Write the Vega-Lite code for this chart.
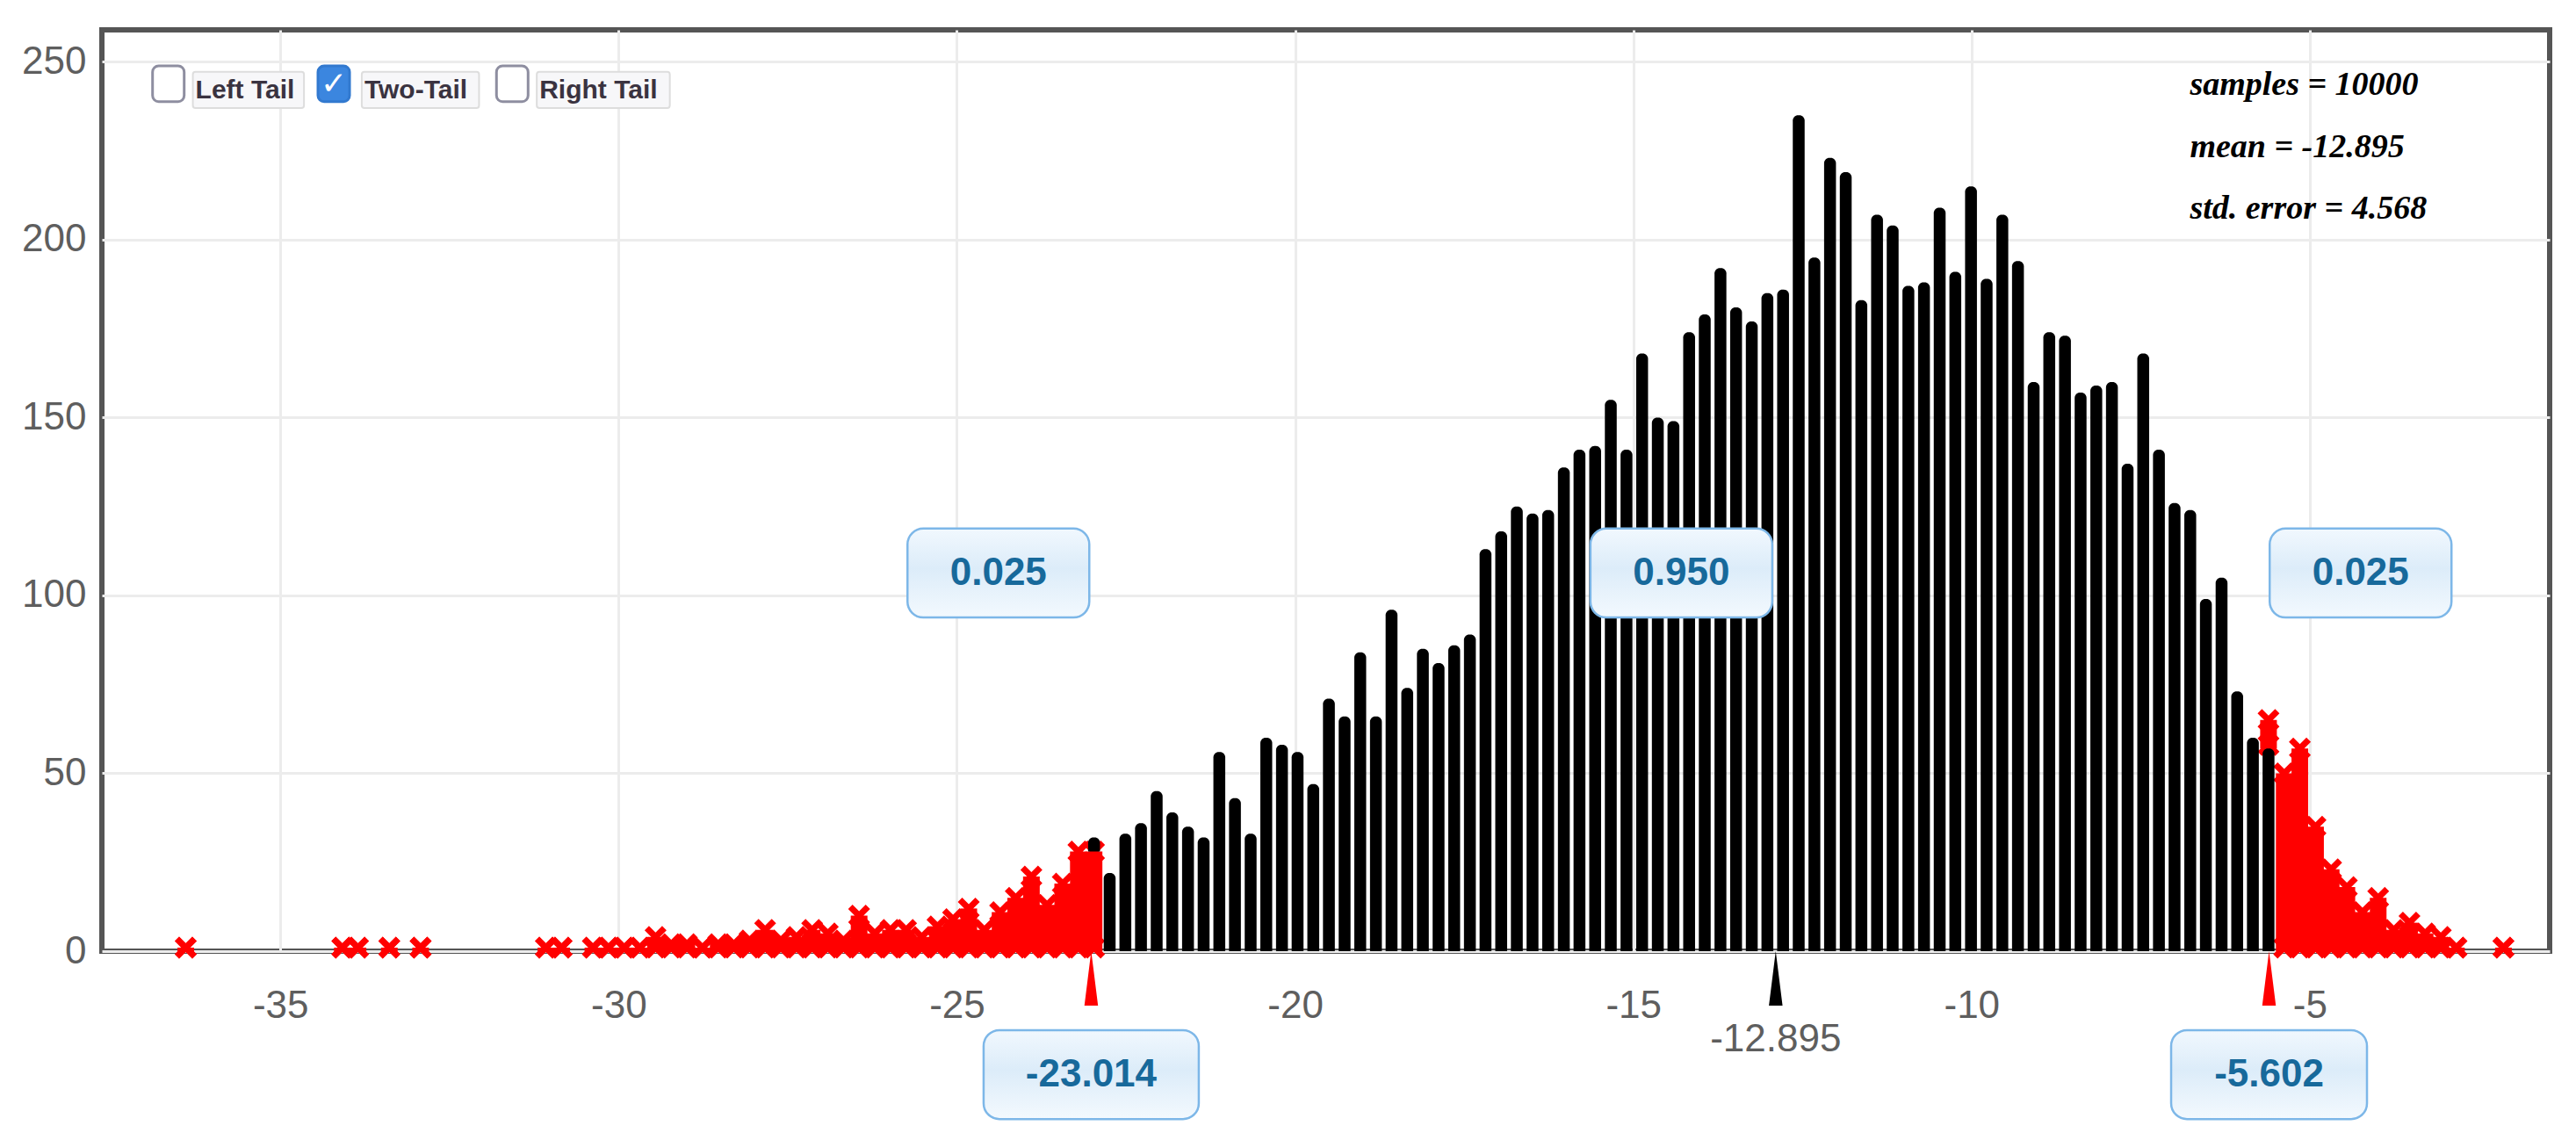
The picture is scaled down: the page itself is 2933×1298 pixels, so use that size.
{
  "$schema": "https://vega.github.io/schema/vega-lite/v6.json",
  "width": 2787,
  "height": 1049,
  "autosize": "none",
  "padding": {"left": 116, "top": 34, "right": 30, "bottom": 215},
  "background": "#ffffff",
  "config": {
    "view": {"stroke": "#555555", "strokeWidth": 6},
    "axis": {"domain": false, "ticks": false, "grid": true, "gridColor": "#ececec", "gridWidth": 3, "labelFont": "Liberation Sans", "labelFontSize": 44, "labelColor": "#5e5e5e", "labelFlush": false, "labelOverlap": false}
  },
  "datasets": {
    "bins": [
      {"x": -36.399, "lo": 0, "hi": 1, "part": "red"},
      {"x": -34.084, "lo": 0, "hi": 1, "part": "red"},
      {"x": -33.853, "lo": 0, "hi": 1, "part": "red"},
      {"x": -33.390, "lo": 0, "hi": 1, "part": "red"},
      {"x": -32.927, "lo": 0, "hi": 1, "part": "red"},
      {"x": -31.075, "lo": 0, "hi": 1, "part": "red"},
      {"x": -30.843, "lo": 0, "hi": 1, "part": "red"},
      {"x": -30.380, "lo": 0, "hi": 1, "part": "red"},
      {"x": -30.149, "lo": 0, "hi": 1, "part": "red"},
      {"x": -29.917, "lo": 0, "hi": 1, "part": "red"},
      {"x": -29.686, "lo": 0, "hi": 1, "part": "red"},
      {"x": -29.454, "lo": 0, "hi": 4, "part": "red"},
      {"x": -29.223, "lo": 0, "hi": 2, "part": "red"},
      {"x": -28.991, "lo": 0, "hi": 2, "part": "red"},
      {"x": -28.760, "lo": 0, "hi": 1, "part": "red"},
      {"x": -28.528, "lo": 0, "hi": 2, "part": "red"},
      {"x": -28.297, "lo": 0, "hi": 2, "part": "red"},
      {"x": -28.065, "lo": 0, "hi": 3, "part": "red"},
      {"x": -27.834, "lo": 0, "hi": 6, "part": "red"},
      {"x": -27.602, "lo": 0, "hi": 3, "part": "red"},
      {"x": -27.371, "lo": 0, "hi": 4, "part": "red"},
      {"x": -27.139, "lo": 0, "hi": 6, "part": "red"},
      {"x": -26.908, "lo": 0, "hi": 5, "part": "red"},
      {"x": -26.676, "lo": 0, "hi": 3, "part": "red"},
      {"x": -26.445, "lo": 0, "hi": 10, "part": "red"},
      {"x": -26.213, "lo": 0, "hi": 5, "part": "red"},
      {"x": -25.982, "lo": 0, "hi": 6, "part": "red"},
      {"x": -25.750, "lo": 0, "hi": 6, "part": "red"},
      {"x": -25.519, "lo": 0, "hi": 4, "part": "red"},
      {"x": -25.287, "lo": 0, "hi": 7, "part": "red"},
      {"x": -25.056, "lo": 0, "hi": 9, "part": "red"},
      {"x": -24.824, "lo": 0, "hi": 12, "part": "red"},
      {"x": -24.593, "lo": 0, "hi": 6, "part": "red"},
      {"x": -24.361, "lo": 0, "hi": 11, "part": "red"},
      {"x": -24.130, "lo": 0, "hi": 15, "part": "red"},
      {"x": -23.898, "lo": 0, "hi": 21, "part": "red"},
      {"x": -23.667, "lo": 0, "hi": 13, "part": "red"},
      {"x": -23.435, "lo": 0, "hi": 19, "part": "red"},
      {"x": -23.204, "lo": 0, "hi": 28, "part": "red"},
      {"x": -22.972, "lo": 0, "hi": 28, "part": "red"},
      {"x": -22.972, "lo": 28, "hi": 32, "part": "black"},
      {"x": -22.741, "lo": 0, "hi": 22, "part": "black"},
      {"x": -22.509, "lo": 0, "hi": 33, "part": "black"},
      {"x": -22.278, "lo": 0, "hi": 36, "part": "black"},
      {"x": -22.046, "lo": 0, "hi": 45, "part": "black"},
      {"x": -21.815, "lo": 0, "hi": 39, "part": "black"},
      {"x": -21.583, "lo": 0, "hi": 35, "part": "black"},
      {"x": -21.352, "lo": 0, "hi": 32, "part": "black"},
      {"x": -21.120, "lo": 0, "hi": 56, "part": "black"},
      {"x": -20.889, "lo": 0, "hi": 43, "part": "black"},
      {"x": -20.657, "lo": 0, "hi": 33, "part": "black"},
      {"x": -20.426, "lo": 0, "hi": 60, "part": "black"},
      {"x": -20.194, "lo": 0, "hi": 58, "part": "black"},
      {"x": -19.963, "lo": 0, "hi": 56, "part": "black"},
      {"x": -19.731, "lo": 0, "hi": 47, "part": "black"},
      {"x": -19.500, "lo": 0, "hi": 71, "part": "black"},
      {"x": -19.268, "lo": 0, "hi": 66, "part": "black"},
      {"x": -19.037, "lo": 0, "hi": 84, "part": "black"},
      {"x": -18.805, "lo": 0, "hi": 66, "part": "black"},
      {"x": -18.574, "lo": 0, "hi": 96, "part": "black"},
      {"x": -18.342, "lo": 0, "hi": 74, "part": "black"},
      {"x": -18.111, "lo": 0, "hi": 85, "part": "black"},
      {"x": -17.879, "lo": 0, "hi": 81, "part": "black"},
      {"x": -17.648, "lo": 0, "hi": 86, "part": "black"},
      {"x": -17.416, "lo": 0, "hi": 89, "part": "black"},
      {"x": -17.185, "lo": 0, "hi": 113, "part": "black"},
      {"x": -16.953, "lo": 0, "hi": 118, "part": "black"},
      {"x": -16.722, "lo": 0, "hi": 125, "part": "black"},
      {"x": -16.490, "lo": 0, "hi": 123, "part": "black"},
      {"x": -16.259, "lo": 0, "hi": 124, "part": "black"},
      {"x": -16.027, "lo": 0, "hi": 136, "part": "black"},
      {"x": -15.796, "lo": 0, "hi": 141, "part": "black"},
      {"x": -15.564, "lo": 0, "hi": 142, "part": "black"},
      {"x": -15.333, "lo": 0, "hi": 155, "part": "black"},
      {"x": -15.101, "lo": 0, "hi": 141, "part": "black"},
      {"x": -14.870, "lo": 0, "hi": 168, "part": "black"},
      {"x": -14.638, "lo": 0, "hi": 150, "part": "black"},
      {"x": -14.407, "lo": 0, "hi": 149, "part": "black"},
      {"x": -14.175, "lo": 0, "hi": 174, "part": "black"},
      {"x": -13.944, "lo": 0, "hi": 179, "part": "black"},
      {"x": -13.712, "lo": 0, "hi": 192, "part": "black"},
      {"x": -13.481, "lo": 0, "hi": 181, "part": "black"},
      {"x": -13.249, "lo": 0, "hi": 177, "part": "black"},
      {"x": -13.018, "lo": 0, "hi": 185, "part": "black"},
      {"x": -12.786, "lo": 0, "hi": 186, "part": "black"},
      {"x": -12.555, "lo": 0, "hi": 235, "part": "black"},
      {"x": -12.323, "lo": 0, "hi": 195, "part": "black"},
      {"x": -12.092, "lo": 0, "hi": 223, "part": "black"},
      {"x": -11.860, "lo": 0, "hi": 219, "part": "black"},
      {"x": -11.629, "lo": 0, "hi": 183, "part": "black"},
      {"x": -11.397, "lo": 0, "hi": 207, "part": "black"},
      {"x": -11.166, "lo": 0, "hi": 204, "part": "black"},
      {"x": -10.934, "lo": 0, "hi": 187, "part": "black"},
      {"x": -10.703, "lo": 0, "hi": 188, "part": "black"},
      {"x": -10.471, "lo": 0, "hi": 209, "part": "black"},
      {"x": -10.240, "lo": 0, "hi": 191, "part": "black"},
      {"x": -10.008, "lo": 0, "hi": 215, "part": "black"},
      {"x": -9.777, "lo": 0, "hi": 189, "part": "black"},
      {"x": -9.545, "lo": 0, "hi": 207, "part": "black"},
      {"x": -9.314, "lo": 0, "hi": 194, "part": "black"},
      {"x": -9.082, "lo": 0, "hi": 160, "part": "black"},
      {"x": -8.851, "lo": 0, "hi": 174, "part": "black"},
      {"x": -8.619, "lo": 0, "hi": 173, "part": "black"},
      {"x": -8.388, "lo": 0, "hi": 157, "part": "black"},
      {"x": -8.156, "lo": 0, "hi": 159, "part": "black"},
      {"x": -7.925, "lo": 0, "hi": 160, "part": "black"},
      {"x": -7.693, "lo": 0, "hi": 137, "part": "black"},
      {"x": -7.462, "lo": 0, "hi": 168, "part": "black"},
      {"x": -7.230, "lo": 0, "hi": 141, "part": "black"},
      {"x": -6.999, "lo": 0, "hi": 126, "part": "black"},
      {"x": -6.767, "lo": 0, "hi": 124, "part": "black"},
      {"x": -6.536, "lo": 0, "hi": 99, "part": "black"},
      {"x": -6.304, "lo": 0, "hi": 105, "part": "black"},
      {"x": -6.073, "lo": 0, "hi": 73, "part": "black"},
      {"x": -5.841, "lo": 0, "hi": 60, "part": "black"},
      {"x": -5.610, "lo": 0, "hi": 57, "part": "black"},
      {"x": -5.610, "lo": 57, "hi": 65, "part": "red"},
      {"x": -5.378, "lo": 0, "hi": 50, "part": "red"},
      {"x": -5.147, "lo": 0, "hi": 57, "part": "red"},
      {"x": -4.915, "lo": 0, "hi": 35, "part": "red"},
      {"x": -4.684, "lo": 0, "hi": 23, "part": "red"},
      {"x": -4.452, "lo": 0, "hi": 18, "part": "red"},
      {"x": -4.221, "lo": 0, "hi": 11, "part": "red"},
      {"x": -3.989, "lo": 0, "hi": 15, "part": "red"},
      {"x": -3.758, "lo": 0, "hi": 6, "part": "red"},
      {"x": -3.526, "lo": 0, "hi": 8, "part": "red"},
      {"x": -3.295, "lo": 0, "hi": 5, "part": "red"},
      {"x": -3.063, "lo": 0, "hi": 4, "part": "red"},
      {"x": -2.832, "lo": 0, "hi": 1, "part": "red"},
      {"x": -2.137, "lo": 0, "hi": 1, "part": "red"}
    ],
    "markers": [
      {"x": -23.014, "kind": "tail"},
      {"x": -12.895, "kind": "mean"},
      {"x": -5.602, "kind": "tail"}
    ],
    "props": [
      {"x": -24.386, "label": "0.025"},
      {"x": -14.29, "label": "0.950"},
      {"x": -4.249, "label": "0.025"}
    ],
    "cuts": [
      {"x": -23.014, "label": "-23.014"},
      {"x": -5.602, "label": "-5.602"}
    ]
  },
  "layer": [
    {
      "data": {"name": "bins"},
      "transform": [{"filter": "datum.part == 'red'"}],
      "mark": {"type": "bar", "width": 19, "color": "#ff0000"},
      "encoding": {
        "x": {"field": "x", "type": "quantitative", "title": null, "scale": {"domain": [-37.574, -1.519], "nice": false, "zero": false}, "axis": {"values": [-35, -30, -25, -20, -15, -10, -5], "labelExpr": "'' + datum.value", "labelPadding": 40, "title": null}},
        "y": {"field": "lo", "type": "quantitative", "title": null, "scale": {"domain": [0, 259], "nice": false, "zero": false}, "axis": {"values": [0, 50, 100, 150, 200, 250], "labelExpr": "'' + datum.value", "labelPadding": 18, "title": null}},
        "y2": {"field": "hi"}
      }
    },
    {
      "data": {"name": "bins"},
      "transform": [{"filter": "datum.part == 'red'"}],
      "mark": {"type": "point", "shape": "M-1,-0.6L-0.6,-1L0,-0.4L0.6,-1L1,-0.6L0.4,0L1,0.6L0.6,1L0,0.4L-0.6,1L-1,0.6L-0.4,0Z", "filled": true, "size": 625, "color": "#ff0000", "opacity": 1, "strokeWidth": 0},
      "encoding": {
        "x": {"field": "x", "type": "quantitative", "title": null},
        "y": {"field": "hi", "type": "quantitative", "title": null}
      }
    },
    {
      "data": {"name": "bins"},
      "transform": [{"filter": "datum.part == 'red'"}],
      "mark": {"type": "point", "shape": "M-1,-0.6L-0.6,-1L0,-0.4L0.6,-1L1,-0.6L0.4,0L1,0.6L0.6,1L0,0.4L-0.6,1L-1,0.6L-0.4,0Z", "filled": true, "size": 625, "color": "#ff0000", "opacity": 1, "strokeWidth": 0, "yOffset": -4},
      "encoding": {
        "x": {"field": "x", "type": "quantitative", "title": null},
        "y": {"field": "lo", "type": "quantitative", "title": null}
      }
    },
    {
      "data": {"name": "bins"},
      "transform": [{"filter": "datum.part == 'black'"}],
      "mark": {"type": "bar", "width": 13.5, "color": "#000000", "cornerRadiusTopLeft": 6, "cornerRadiusTopRight": 6},
      "encoding": {
        "x": {"field": "x", "type": "quantitative", "title": null},
        "y": {"field": "lo", "type": "quantitative", "title": null},
        "y2": {"field": "hi"}
      }
    },
    {
      "data": {"name": "markers"},
      "mark": {"type": "point", "shape": "M0,0L0.25,2L-0.25,2Z", "filled": true, "size": 3844, "opacity": 1, "strokeWidth": 0},
      "encoding": {
        "x": {"field": "x", "type": "quantitative", "title": null},
        "y": {"datum": 0, "type": "quantitative"},
        "color": {"field": "kind", "type": "nominal", "scale": {"domain": ["tail", "mean"], "range": ["#ff0000", "#000000"]}, "legend": null}
      }
    },
    {
      "data": {"name": "markers"},
      "transform": [{"filter": "datum.kind == 'mean'"}],
      "mark": {"type": "text", "text": "-12.895", "font": "Liberation Sans", "fontSize": 44, "color": "#5e5e5e", "baseline": "middle", "align": "center"},
      "encoding": {
        "x": {"field": "x", "type": "quantitative", "title": null},
        "y": {"datum": -24.9, "type": "quantitative"}
      }
    },
    {
      "data": {"name": "props"},
      "mark": {"type": "bar", "width": 207, "cornerRadius": 18, "stroke": "#7db7e8", "strokeWidth": 2.5, "fill": {"gradient": "linear", "x1": 0, "y1": 0, "x2": 0, "y2": 1, "stops": [{"offset": 0, "color": "#f1f8fe"}, {"offset": 0.45, "color": "#dcecf9"}, {"offset": 1, "color": "#f3f9fe"}]}},
      "encoding": {
        "x": {"field": "x", "type": "quantitative", "title": null},
        "y": {"datum": 93.8, "type": "quantitative"},
        "y2": {"datum": 118.8}
      }
    },
    {
      "data": {"name": "props"},
      "mark": {"type": "text", "font": "Liberation Sans", "fontSize": 44, "fontWeight": "bold", "color": "#17699b", "baseline": "middle", "align": "center"},
      "encoding": {
        "x": {"field": "x", "type": "quantitative", "title": null},
        "y": {"datum": 106.2, "type": "quantitative"},
        "text": {"field": "label"}
      }
    },
    {
      "data": {"name": "cuts"},
      "transform": [{"filter": "datum.label == '-23.014'"}],
      "mark": {"type": "bar", "width": 245, "cornerRadius": 18, "stroke": "#7db7e8", "strokeWidth": 2.5, "fill": {"gradient": "linear", "x1": 0, "y1": 0, "x2": 0, "y2": 1, "stops": [{"offset": 0, "color": "#f1f8fe"}, {"offset": 0.45, "color": "#dcecf9"}, {"offset": 1, "color": "#f3f9fe"}]}},
      "encoding": {
        "x": {"field": "x", "type": "quantitative", "title": null},
        "y": {"datum": -22.2, "type": "quantitative"},
        "y2": {"datum": -47.2}
      }
    },
    {
      "data": {"name": "cuts"},
      "transform": [{"filter": "datum.label == '-5.602'"}],
      "mark": {"type": "bar", "width": 223, "cornerRadius": 18, "stroke": "#7db7e8", "strokeWidth": 2.5, "fill": {"gradient": "linear", "x1": 0, "y1": 0, "x2": 0, "y2": 1, "stops": [{"offset": 0, "color": "#f1f8fe"}, {"offset": 0.45, "color": "#dcecf9"}, {"offset": 1, "color": "#f3f9fe"}]}},
      "encoding": {
        "x": {"field": "x", "type": "quantitative", "title": null},
        "y": {"datum": -22.2, "type": "quantitative"},
        "y2": {"datum": -47.2}
      }
    },
    {
      "data": {"name": "cuts"},
      "mark": {"type": "text", "font": "Liberation Sans", "fontSize": 44, "fontWeight": "bold", "color": "#17699b", "baseline": "middle", "align": "center"},
      "encoding": {
        "x": {"field": "x", "type": "quantitative", "title": null},
        "y": {"datum": -34.8, "type": "quantitative"},
        "text": {"field": "label"}
      }
    },
    {
      "data": {"values": [{}]},
      "mark": {"type": "text", "text": ["samples = 10000", "mean = -12.895", "std. error = 4.568"], "lineHeight": 70.5, "font": "Liberation Serif", "fontSize": 38, "fontStyle": "italic", "fontWeight": "bold", "color": "#000000", "align": "left", "baseline": "alphabetic"},
      "encoding": {
        "x": {"datum": -6.772, "type": "quantitative"},
        "y": {"datum": 240.7, "type": "quantitative"}
      }
    },
    {
      "data": {"values": [{}]},
      "mark": {"type": "bar", "cornerRadius": 3, "fill": "#f7f7f9", "stroke": "#dddddd", "strokeWidth": 2},
      "encoding": {
        "x": {"datum": -36.294, "type": "quantitative"},
        "x2": {"datum": -34.651},
        "y": {"datum": 237.0, "type": "quantitative"},
        "y2": {"datum": 247.2}
      }
    },
    {
      "data": {"values": [{}]},
      "mark": {"type": "bar", "cornerRadius": 3, "fill": "#f7f7f9", "stroke": "#dddddd", "strokeWidth": 2},
      "encoding": {
        "x": {"datum": -33.797, "type": "quantitative"},
        "x2": {"datum": -32.063},
        "y": {"datum": 237.0, "type": "quantitative"},
        "y2": {"datum": 247.2}
      }
    },
    {
      "data": {"values": [{}]},
      "mark": {"type": "bar", "cornerRadius": 3, "fill": "#f7f7f9", "stroke": "#dddddd", "strokeWidth": 2},
      "encoding": {
        "x": {"datum": -31.210, "type": "quantitative"},
        "x2": {"datum": -29.243},
        "y": {"datum": 237.0, "type": "quantitative"},
        "y2": {"datum": 247.2}
      }
    },
    {
      "data": {"values": [{}]},
      "mark": {"type": "bar", "width": 36, "cornerRadius": 7, "fill": "#ffffff", "stroke": "#8e8ea0", "strokeWidth": 3},
      "encoding": {
        "x": {"datum": -36.656, "type": "quantitative"},
        "y": {"datum": 238.8, "type": "quantitative"},
        "y2": {"datum": 248.9}
      }
    },
    {
      "data": {"values": [{}]},
      "mark": {"type": "bar", "width": 36, "cornerRadius": 7, "fill": "#3b86df", "stroke": "#3279cf", "strokeWidth": 3},
      "encoding": {
        "x": {"datum": -34.211, "type": "quantitative"},
        "y": {"datum": 238.8, "type": "quantitative"},
        "y2": {"datum": 248.9}
      }
    },
    {
      "data": {"values": [{}]},
      "mark": {"type": "bar", "width": 36, "cornerRadius": 7, "fill": "#ffffff", "stroke": "#8e8ea0", "strokeWidth": 3},
      "encoding": {
        "x": {"datum": -31.572, "type": "quantitative"},
        "y": {"datum": 238.8, "type": "quantitative"},
        "y2": {"datum": 248.9}
      }
    },
    {
      "data": {"values": [{}]},
      "mark": {"type": "text", "text": "✓", "font": "DejaVu Sans", "fontSize": 36, "fontWeight": "bold", "color": "#ffffff", "align": "center", "baseline": "middle"},
      "encoding": {
        "x": {"datum": -34.211, "type": "quantitative"},
        "y": {"datum": 243.6, "type": "quantitative"}
      }
    },
    {
      "data": {"values": [{}]},
      "mark": {"type": "text", "text": "Left Tail", "font": "Liberation Sans", "fontSize": 30, "fontWeight": "bold", "color": "#3a3340", "align": "left", "baseline": "middle"},
      "encoding": {
        "x": {"datum": -36.255, "type": "quantitative"},
        "y": {"datum": 242.0, "type": "quantitative"}
      }
    },
    {
      "data": {"values": [{}]},
      "mark": {"type": "text", "text": "Two-Tail", "font": "Liberation Sans", "fontSize": 30, "fontWeight": "bold", "color": "#3a3340", "align": "left", "baseline": "middle"},
      "encoding": {
        "x": {"datum": -33.758, "type": "quantitative"},
        "y": {"datum": 242.0, "type": "quantitative"}
      }
    },
    {
      "data": {"values": [{}]},
      "mark": {"type": "text", "text": "Right Tail", "font": "Liberation Sans", "fontSize": 30, "fontWeight": "bold", "color": "#3a3340", "align": "left", "baseline": "middle"},
      "encoding": {
        "x": {"datum": -31.171, "type": "quantitative"},
        "y": {"datum": 242.0, "type": "quantitative"}
      }
    }
  ]
}
